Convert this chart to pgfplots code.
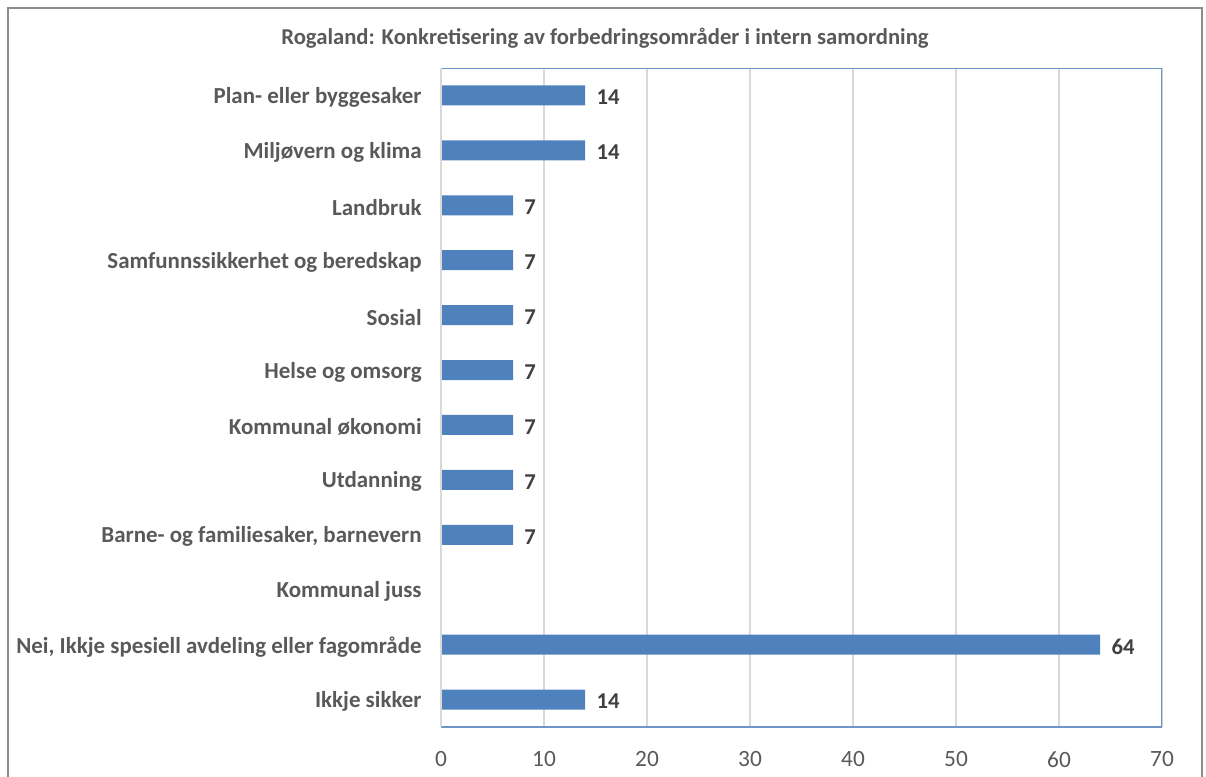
\documentclass[border=0pt]{standalone}
\usepackage{pgfplots}
\pgfplotsset{compat=1.18}
\usepackage{fontspec}
\setmainfont{Carlito}
\definecolor{barblue}{HTML}{4F81BD}
\definecolor{axblue}{HTML}{6E95C8}
\definecolor{txtgray}{HTML}{595959}
\definecolor{lblgray}{HTML}{404040}
\definecolor{gridgray}{HTML}{D9D9D9}
\definecolor{framegray}{HTML}{8C8C8C}
\pgfplotstableread{
idx val
0 14
1 14
2 7
3 7
4 7
5 7
6 7
7 7
8 7
9 0
10 64
11 14
}\datatable
\begin{document}
\begin{tikzpicture}
\useasboundingbox (0,0) rectangle (904.5pt,-582pt);
\draw[framegray, line width=1.5pt] (6pt,-600pt) -- (6pt,-6pt) -- (901.5pt,-6pt) -- (901.5pt,-600pt);
\node[font=\fontsize{17}{20}\selectfont\bfseries, text=txtgray] at (453.75pt,-28.5pt) {Rogaland: Konkretisering av forbedringsområder i intern samordning};
\begin{axis}[at={(330.75pt,-545.25pt)}, anchor=south west, scale only axis,
  width=540.75pt, height=494.25pt,
  xbar, bar width=15pt,
  xmin=0, xmax=70, ymin=-0.5, ymax=11.5, y dir=reverse,
  xtick={0,10,...,70}, ytick={0,...,11},
  yticklabels={Plan- eller byggesaker, Miljøvern og klima, Landbruk, Samfunnssikkerhet og beredskap, Sosial, Helse og omsorg, Kommunal økonomi, Utdanning, {Barne- og familiesaker, barnevern}, Kommunal juss, {Nei, Ikkje spesiell avdeling eller fagområde}, Ikkje sikker},
  major tick length=0pt, axis line style={draw=none},
  xmajorgrids, grid style={gridgray, line width=1pt},
  /pgf/number format/assume math mode=true,
  xticklabel style={font=\fontsize{17.5}{20}\selectfont, text=txtgray, yshift=-15pt},
  yticklabel style={font=\fontsize{17.2}{20}\selectfont\bfseries, text=txtgray, xshift=-11pt, yshift=-1.5pt},
  nodes near coords={\pgfmathfloatifflags{\pgfplotspointmeta}{0}{}{\pgfmathprintnumber{\pgfplotspointmeta}}},
  nodes near coords style={font=\fontsize{17}{20}\selectfont\bfseries, text=lblgray, anchor=west, xshift=5pt, yshift=-1.5pt},
  point meta=explicit,
]
\addplot[fill=barblue, draw=none] table[x=val, y=idx, meta=val] {\datatable};
\draw[axblue, line width=1.5pt] (rel axis cs:0,0) -- (rel axis cs:1,0) -- (rel axis cs:1,1) -- (rel axis cs:0,1);
\draw[gridgray, line width=1pt] (rel axis cs:0,0) -- (rel axis cs:0,1);
\end{axis}
\end{tikzpicture}
\end{document}
